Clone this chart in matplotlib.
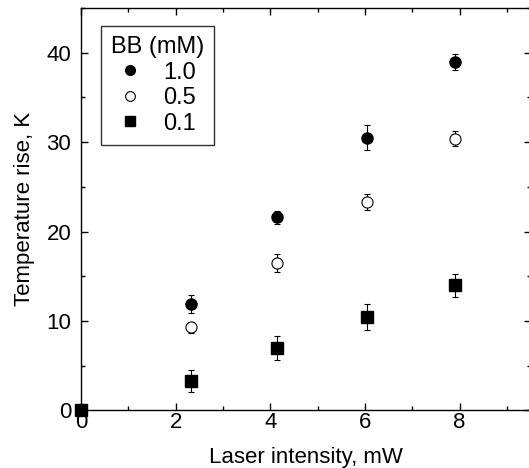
import matplotlib.pyplot as plt
from matplotlib.lines import Line2D
from matplotlib.ticker import MultipleLocator

plt.rcParams["font.family"] = ["Liberation Sans", "DejaVu Sans"]

# Laser intensity (mW) for each BB concentration
x_10 = [2.33, 4.15, 6.05, 7.9]
y_10 = [11.9, 21.6, 30.5, 39.0]
e_10 = [1.0, 0.7, 1.4, 0.9]

x_05 = [2.33, 4.15, 6.05, 7.9]
y_05 = [9.3, 16.5, 23.3, 30.4]
e_05 = [0.6, 1.0, 0.85, 0.8]

x_01 = [0.0, 2.33, 4.15, 6.05, 7.9]
y_01 = [0.0, 3.3, 7.0, 10.4, 14.0]
e_01 = [0.0, 1.25, 1.35, 1.45, 1.3]

fig = plt.figure(figsize=(5.29, 4.68), dpi=100)
ax = fig.add_axes([0.153, 0.123, 0.85, 0.86])

kw = dict(ls="none", ecolor="black", elinewidth=0.8, capsize=2.5, capthick=0.8)
ax.errorbar(x_10, y_10, yerr=e_10, marker="o", ms=8, mfc="black", mec="black", **kw)
ax.errorbar(x_05, y_05, yerr=e_05, marker="o", ms=8, mfc="white", mec="black",
            mew=0.8, **kw)
ax.errorbar(x_01, y_01, yerr=e_01, marker="s", ms=8, mfc="black", mec="black",
            clip_on=False, **kw)

ax.set_xlim(0, 9.5)
ax.set_ylim(0, 45)
ax.xaxis.set_major_locator(MultipleLocator(2))
ax.xaxis.set_minor_locator(MultipleLocator(1))
ax.yaxis.set_major_locator(MultipleLocator(10))
ax.yaxis.set_minor_locator(MultipleLocator(5))
ax.tick_params(which="both", direction="in", top=True, right=True,
               labelsize=16, width=1)
ax.tick_params(which="major", length=5)
ax.tick_params(which="minor", length=3)
ax.tick_params(axis="x", pad=1)
ax.tick_params(axis="y", pad=7)
for s in ax.spines.values():
    s.set_linewidth(1)

ax.set_xlabel("Laser intensity, mW", fontsize=16, labelpad=10)
ax.set_ylabel("Temperature rise, K", fontsize=16, labelpad=8)

handles = [
    Line2D([], [], ls="none", marker="o", ms=7, mfc="black", mec="black"),
    Line2D([], [], ls="none", marker="o", ms=7, mfc="white", mec="black", mew=0.8),
    Line2D([], [], ls="none", marker="s", ms=7, mfc="black", mec="black"),
]
leg = ax.legend(handles, ["1.0", "0.5", "0.1"], title="BB (mM)", loc="upper left",
                bbox_to_anchor=(0.044, 0.955), fontsize=17, title_fontsize=17,
                frameon=True, fancybox=False, edgecolor="black",
                handlelength=1.0, handletextpad=0.9, labelspacing=0.15,
                borderpad=0.42, borderaxespad=0)
leg.get_frame().set_linewidth(1)

fig.savefig("out.png", dpi=100)
